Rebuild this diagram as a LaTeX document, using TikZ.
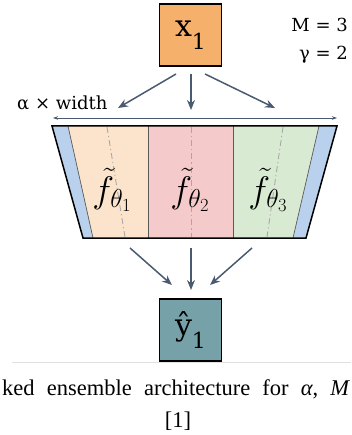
\RequirePackage{fix-cm}
\documentclass[tikz,border=0pt]{standalone}
\usepackage{fontspec}
\usetikzlibrary{arrows.meta}
\newfontfamily\diagfont{DejaVu Serif}
\newfontfamily\capfont{Liberation Serif}
\definecolor{arrowc}{HTML}{4A5A70}
\definecolor{xfill}{HTML}{F5B06C}
\definecolor{yfill}{HTML}{76A1A9}
\definecolor{secA}{HTML}{FCE4CC}
\definecolor{secB}{HTML}{F4CACB}
\definecolor{secC}{HTML}{D9EAD3}
\definecolor{stripc}{HTML}{B9D1EC}
\definecolor{dashc}{HTML}{A8A8A8}
\definecolor{rulec}{HTML}{E0E0E0}
\tikzset{
  iobox/.style={draw=black, line width=1.4pt, minimum width=62pt, minimum height=62pt, inner sep=0pt, font=\diagfont},
  flow/.style={draw=arrowc, line width=1.5pt, -{Stealth[length=10pt,width=8pt]}},
  widthline/.style={draw=arrowc, line width=0.7pt, {Stealth[length=5pt,width=3.5pt]}-{Stealth[length=5pt,width=3.5pt]}},
  sep/.style={draw=black!65, line width=0.7pt},
  axisline/.style={draw=dashc, line width=0.9pt, dash pattern=on 6pt off 3pt on 1.2pt off 3pt},
  flabel/.style={inner sep=0pt, font=\fontsize{37}{40}\selectfont},
  note/.style={inner sep=0pt, font=\diagfont\fontsize{18}{20}\selectfont},
}
\begin{document}
\begin{tikzpicture}[x=1pt,y=-1pt]
\useasboundingbox (0,0) rectangle (351,435);
% sections
\fill[secA] (68,126) -- (148,126) -- (148,238) -- (93,238) -- cycle;
\fill[secB] (148,126) -- (233,126) -- (233,238) -- (148,238) -- cycle;
\fill[secC] (233,126) -- (319,126) -- (293,238) -- (233,238) -- cycle;
\fill[stripc] (52,126) -- (68,126) -- (93,238) -- (83,238) -- cycle;
\fill[stripc] (319,126) -- (337,126) -- (306,238) -- (293,238) -- cycle;
% axes
\draw[axisline] (107,127) -- (125,237);
\draw[axisline] (191,127) -- (191,237);
\draw[axisline] (283,127) -- (267,237);
% separators
\draw[sep] (68,126) -- (93,238);
\draw[sep] (319,126) -- (293,238);
\draw[sep] (148,126) -- (148,238);
\draw[sep] (233,126) -- (233,238);
% outline
\draw[black, line width=1.5pt, line join=miter] (52,126) -- (337,126) -- (306,238) -- (83,238) -- cycle;
% labels
\node[flabel] (f1) at (112,190) {$\tilde{f}_{\theta_1}$};
\node[flabel] (f2) at (190,190) {$\tilde{f}_{\theta_2}$};
\node[flabel] (f3) at (268,190) {$\tilde{f}_{\theta_3}$};
% io boxes
\node[iobox, fill=xfill] (x1) at (190.5,35) {\fontsize{30}{30}\selectfont x\raisebox{-0.45em}{\fontsize{22}{22}\selectfont 1}};
\node[iobox, fill=yfill] (y1) at (190.5,330) {\fontsize{30}{30}\selectfont ŷ\raisebox{-0.45em}{\fontsize{22}{22}\selectfont 1}};
% notes
\node[note, anchor=east] (mnote) at (348,25) {M = 3};
\node[note, anchor=east] (gnote) at (348,55) {γ = 2};
\node[note, anchor=base west] (wnote) at (17,110) {α × width};
% width arrow
\coordinate (wl) at (53,118);
\coordinate (wr) at (337,118);
\draw[widthline] (wl) -- (wr);
% top arrows
\coordinate (ta1) at (176,74);
\coordinate (ta2) at (191,74);
\coordinate (ta3) at (205,74);
\coordinate (te1) at (118,108);
\coordinate (te2) at (191,110);
\coordinate (te3) at (275,108);
\draw[flow] (ta1) -- (te1);
\draw[flow] (ta2) -- (te2);
\draw[flow] (ta3) -- (te3);
% bottom arrows
\coordinate (ba1) at (130,248);
\coordinate (ba2) at (191,248);
\coordinate (ba3) at (252,248);
\coordinate (be1) at (172,285);
\coordinate (be2) at (191,290);
\coordinate (be3) at (210,285);
\draw[flow] (ba1) -- (be1);
\draw[flow] (ba2) -- (be2);
\draw[flow] (ba3) -- (be3);
% caption
\coordinate (rl) at (12,362);
\coordinate (rr) at (351,362);
\draw[rulec, line width=0.8pt] (rl) -- (rr);
\node[inner sep=0pt, anchor=base west, font=\capfont\fontsize{22.5}{24}\selectfont] (cap1) at (2,395)
  {\hbox to 348pt{ked\hfil ensemble\hfil architecture\hfil for\hfil \textit{α},\hfil \textit{M}}};
\node[inner sep=0pt, anchor=base, font=\capfont\fontsize{22.5}{24}\selectfont] (cap2) at (178,427) {[1]};
\end{tikzpicture}
\end{document}
